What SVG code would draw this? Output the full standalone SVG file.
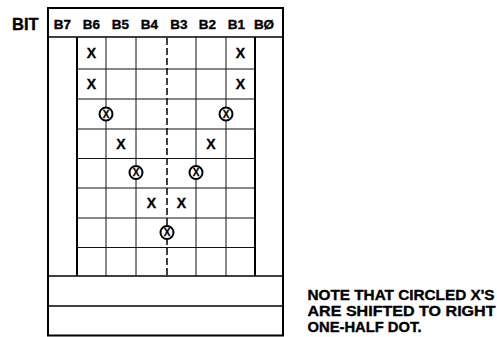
<svg xmlns="http://www.w3.org/2000/svg" width="497" height="337" viewBox="0 0 497 337">
<style>
.t{font-family:"Liberation Sans",Arial,sans-serif;font-weight:bold;fill:#000;stroke:#000;stroke-width:0.35}
.hd{font-size:13.5px;text-anchor:middle}
.x{font-size:14px;text-anchor:middle}
.cx{font-size:10px;text-anchor:middle;stroke-width:0.3}
.thick{stroke:#000;stroke-width:2;fill:none}
.med{stroke:#000;stroke-width:1.5;fill:none}
.thin{stroke:#111;stroke-width:1;fill:none}
.dash{stroke:#000;stroke-width:1.5;stroke-dasharray:7 3;fill:none}
.circ{stroke:#000;stroke-width:2;fill:#fff}
</style>
<rect width="497" height="337" fill="#fff"/>
<text class="t" x="12" y="30" font-size="16.5">BIT</text>
<g id="frame">
<rect class="thick" x="48" y="8" width="235" height="327.5"/>
<line class="med" x1="48" y1="37" x2="283" y2="37"/>
<line class="med" x1="48" y1="276" x2="283" y2="276"/>
<line class="med" x1="48" y1="306" x2="283" y2="306"/>
<line class="thick" x1="77" y1="37" x2="77" y2="276"/>
<line class="thick" x1="255" y1="37" x2="255" y2="276"/>
</g>
<g id="header">
<text class="t hd" x="62.5" y="28.5">B7</text>
<text class="t hd" x="91.5" y="28.5">B6</text>
<text class="t hd" x="120.5" y="28.5">B5</text>
<text class="t hd" x="149.5" y="28.5">B4</text>
<text class="t hd" x="179" y="28.5">B3</text>
<text class="t hd" x="207.5" y="28.5">B2</text>
<text class="t hd" x="236.5" y="28.5">B1</text>
<text class="t hd" x="264" y="28.5">BØ</text>
</g>
<g id="grid">
<line class="thin" x1="77" y1="69" x2="255" y2="69"/>
<line class="thin" x1="77" y1="99" x2="255" y2="99"/>
<line class="thin" x1="77" y1="129" x2="255" y2="129"/>
<line class="thin" x1="77" y1="158.5" x2="255" y2="158.5"/>
<line class="thin" x1="77" y1="188" x2="255" y2="188"/>
<line class="thin" x1="77" y1="218" x2="255" y2="218"/>
<line class="thin" x1="77" y1="247.5" x2="255" y2="247.5"/>
<line class="thin" x1="106" y1="37" x2="106" y2="276"/>
<line class="thin" x1="136" y1="37" x2="136" y2="276"/>
<line class="thin" x1="196" y1="37" x2="196" y2="276"/>
<line class="thin" x1="226" y1="37" x2="226" y2="276"/>
<line class="dash" x1="167" y1="38" x2="167" y2="276"/>
</g>
<g id="dots">
<text class="t x" x="91.5" y="58">X</text>
<text class="t x" x="240.5" y="58">X</text>
<text class="t x" x="91.5" y="88.5">X</text>
<text class="t x" x="240.5" y="88.5">X</text>
<text class="t x" x="121" y="148.5">X</text>
<text class="t x" x="211" y="148.5">X</text>
<text class="t x" x="151.5" y="207.5">X</text>
<text class="t x" x="181.5" y="207.5">X</text>
</g>
<g id="circled">
<circle class="circ" cx="106" cy="114" r="6.5"/><text class="t cx" x="106" y="117.6">X</text>
<circle class="circ" cx="226" cy="114" r="6.5"/><text class="t cx" x="226" y="117.6">X</text>
<circle class="circ" cx="136" cy="172.5" r="6.5"/><text class="t cx" x="136" y="176.1">X</text>
<circle class="circ" cx="196" cy="172.5" r="6.5"/><text class="t cx" x="196" y="176.1">X</text>
<circle class="circ" cx="167" cy="232.5" r="6.5"/><text class="t cx" x="167" y="236.1">X</text>
</g>
<g id="note">
<text class="t" x="307.5" y="300" font-size="14" textLength="187" lengthAdjust="spacingAndGlyphs">NOTE THAT CIRCLED X'S</text>
<text class="t" x="307.5" y="315.7" font-size="14" textLength="188" lengthAdjust="spacingAndGlyphs">ARE SHIFTED TO RIGHT</text>
<text class="t" x="307.5" y="331.5" font-size="14" textLength="114" lengthAdjust="spacingAndGlyphs">ONE-HALF DOT.</text>
</g>
</svg>
